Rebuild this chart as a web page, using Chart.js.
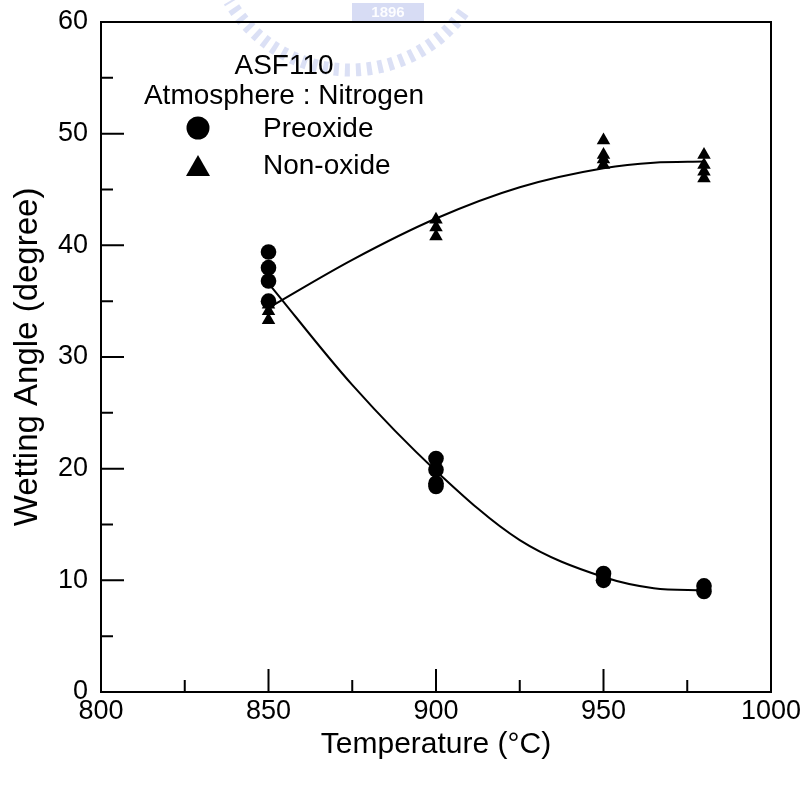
<!DOCTYPE html>
<html>
<head>
<meta charset="utf-8">
<script src="https://cdn.jsdelivr.net/npm/chart.js@4.4.1/dist/chart.umd.min.js"></script>
<style>
  html, body { margin: 0; padding: 0; background: #fff; }
  #wrap { width: 806px; height: 785px; }
</style>
</head>
<body>
<div id="wrap"><canvas id="c" width="806" height="785"></canvas></div>
<script>
// Axis ticks
const tempTicks = [800, 850, 900, 950, 1000];
const angleTicks = [0, 10, 20, 30, 40, 50, 60];

// Measured wetting angles, preoxidised samples
const preoxideTemp  = [850, 850, 850, 850, 900, 900, 900, 900, 950, 950, 980, 980];
const preoxideAngle = [39.4, 38.0, 36.8, 35.0, 20.9, 19.9, 18.7, 18.4, 10.6, 10.0, 9.5, 9.0];

// Measured wetting angles, non-oxidised samples
const nonoxideTemp  = [850, 850, 850, 900, 900, 900, 950, 950, 950, 950, 980, 980, 980, 980];
const nonoxideAngle = [34.7, 34.1, 33.3, 42.3, 41.6, 40.8, 49.4, 48.1, 47.7, 47.2, 48.1, 47.2, 46.6, 46.0];

// Trend curves
const curveTemp     = [850, 875, 900, 925, 950, 965, 980];
const preoxideCurve = [36.6, 27.5, 19.8, 13.6, 10.3, 9.3, 9.1];
const nonoxideCurve = [34.4, 38.7, 42.4, 45.2, 46.9, 47.4, 47.5];

const FONT = '"Liberation Sans", Arial, Helvetica, sans-serif';
const toXY = (xs, ys) => xs.map((x, i) => ({ x: x, y: ys[i] }));

// Frame, inward tick marks, watermark and key
const framePlugin = {
  id: 'frame',
  beforeDraw(chart) {
    const ctx = chart.ctx;
    ctx.save();
    // pale emblem at the top
    ctx.strokeStyle = 'rgba(110,130,215,0.25)';
    ctx.lineWidth = 13;
    ctx.setLineDash([5, 6]);
    ctx.beginPath();
    ctx.arc(350, -70, 140, Math.PI * 0.2, Math.PI * 0.83);
    ctx.stroke();
    ctx.setLineDash([]);
    ctx.fillStyle = 'rgba(110,130,215,0.28)';
    ctx.fillRect(352, 3, 72, 19);
    ctx.fillStyle = 'rgba(255,255,255,0.95)';
    ctx.font = 'bold 15px ' + FONT;
    ctx.textAlign = 'center';
    ctx.textBaseline = 'middle';
    ctx.fillText('1896', 388, 13);
    ctx.restore();
  },
  afterDraw(chart) {
    const { ctx, chartArea: a, scales: { x, y } } = chart;
    ctx.save();
    ctx.strokeStyle = '#000';
    ctx.lineWidth = 2;
    ctx.strokeRect(a.left, a.top, a.right - a.left, a.bottom - a.top);
    ctx.beginPath();
    for (let v = 800; v <= 1000; v += 25) {
      const px = x.getPixelForValue(v);
      const len = (v % 50 === 0) ? 23 : 12;
      ctx.moveTo(px, a.bottom);
      ctx.lineTo(px, a.bottom - len);
    }
    for (let v = 0; v <= 60; v += 5) {
      const py = y.getPixelForValue(v);
      const len = (v % 10 === 0) ? 23 : 12;
      ctx.moveTo(a.left, py);
      ctx.lineTo(a.left + len, py);
    }
    ctx.stroke();

    // key
    ctx.fillStyle = '#000';
    ctx.font = '28px ' + FONT;
    ctx.textBaseline = 'middle';
    ctx.textAlign = 'center';
    ctx.fillText('ASF110', 284, 66);
    ctx.fillText('Atmosphere : Nitrogen', 284, 96);
    ctx.textAlign = 'left';
    ctx.fillText('Preoxide', 263, 129);
    ctx.fillText('Non-oxide', 263, 166);
    ctx.beginPath();
    ctx.arc(198, 128, 11.5, 0, Math.PI * 2);
    ctx.fill();
    ctx.beginPath();
    ctx.moveTo(198, 155);
    ctx.lineTo(210, 176);
    ctx.lineTo(186, 176);
    ctx.closePath();
    ctx.fill();
    ctx.restore();
  }
};

new Chart(document.getElementById('c'), {
  type: 'scatter',
  data: {
    datasets: [
      {
        label: 'Preoxide fit',
        data: toXY(curveTemp, preoxideCurve),
        showLine: true,
        cubicInterpolationMode: 'monotone',
        borderColor: '#000',
        borderWidth: 2,
        pointRadius: 0,
        order: 2
      },
      {
        label: 'Non-oxide fit',
        data: toXY(curveTemp, nonoxideCurve),
        showLine: true,
        cubicInterpolationMode: 'monotone',
        borderColor: '#000',
        borderWidth: 2,
        pointRadius: 0,
        order: 2
      },
      {
        label: 'Preoxide',
        data: toXY(preoxideTemp, preoxideAngle),
        pointStyle: 'circle',
        pointRadius: 7.8,
        backgroundColor: '#000',
        borderColor: '#000',
        borderWidth: 0,
        order: 1
      },
      {
        label: 'Non-oxide',
        data: toXY(nonoxideTemp, nonoxideAngle),
        pointStyle: 'triangle',
        pointRadius: 7.8,
        backgroundColor: '#000',
        borderColor: '#000',
        borderWidth: 0,
        order: 1
      }
    ]
  },
  options: {
    responsive: false,
    animation: false,
    devicePixelRatio: 1,
    layout: { padding: { left: 0, top: 22, right: 35, bottom: 0 } },
    plugins: { legend: { display: false }, tooltip: { enabled: false } },
    scales: {
      x: {
        type: 'linear',
        min: 800, max: 1000,
        afterBuildTicks: s => { s.ticks = tempTicks.map(v => ({ value: v })); },
        afterFit: s => { s.height = 93; s.paddingLeft = 0; s.paddingRight = 0; },
        grid: { display: false, drawTicks: false },
        border: { display: false },
        ticks: {
          color: '#000', font: { family: FONT, size: 27 }, padding: 3, maxRotation: 0,
          callback: v => String(v)
        },
        title: {
          display: true, text: 'Temperature (\u00B0C)', color: '#000',
          font: { family: FONT, size: 30 }, padding: { top: 0, bottom: 22 }
        }
      },
      y: {
        type: 'linear',
        min: 0, max: 60,
        afterBuildTicks: s => { s.ticks = angleTicks.map(v => ({ value: v })); },
        afterFit: s => { s.width = 101; s.paddingTop = 0; s.paddingBottom = 0; },
        grid: { display: false, drawTicks: false },
        border: { display: false },
        ticks: {
          color: '#000', font: { family: FONT, size: 27 }, padding: 13,
          callback: v => String(v)
        },
        title: {
          display: true, text: 'Wetting Angle (degree)', color: '#000',
          font: { family: FONT, size: 33 }, padding: { top: 8, bottom: 0 }
        }
      }
    }
  },
  plugins: [framePlugin]
});
</script>
</body>
</html>
